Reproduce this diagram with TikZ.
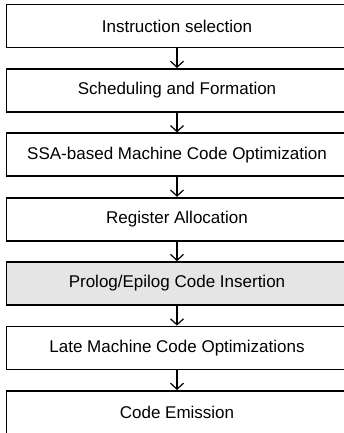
\documentclass[tikz,border=0pt]{standalone}
\usepackage{fontspec}
\setmainfont{Liberation Sans}
\usetikzlibrary{arrows.meta}

\begin{document}
\begin{tikzpicture}[node distance={64.4pt}, thick, main/.style = {draw, line width=1.8pt, minimum width=341pt, minimum height=43pt, inner sep=0pt, font=\fontsize{17}{20}\selectfont}]
      \useasboundingbox (0,0) rectangle (344pt,-433pt);
      \node[main] (1) at (177pt,-26pt) {Instruction selection};
      \node[main] (2) [below of=1] {Scheduling and Formation};
      \node[main] (3) [below of=2] {SSA-based Machine Code Optimization};
      \node[main] (4) [below of=3] {Register Allocation};
      \node[main, fill=black!10] (5) [below of=4] {Prolog/Epilog Code Insertion};
      \node[main] (6) [below of=5] {Late Machine Code Optimizations};
      \node[main] (7) [below of=6] {Code Emission};

      \path[-{Straight Barb[length=6pt,width=13pt]}, line width=1.2pt]
      (1) edge (2)
      (2) edge (3)
      (3) edge (4)
      (4) edge (5)
      (5) edge (6)
      (6) edge (7);
    \end{tikzpicture}
\end{document}
